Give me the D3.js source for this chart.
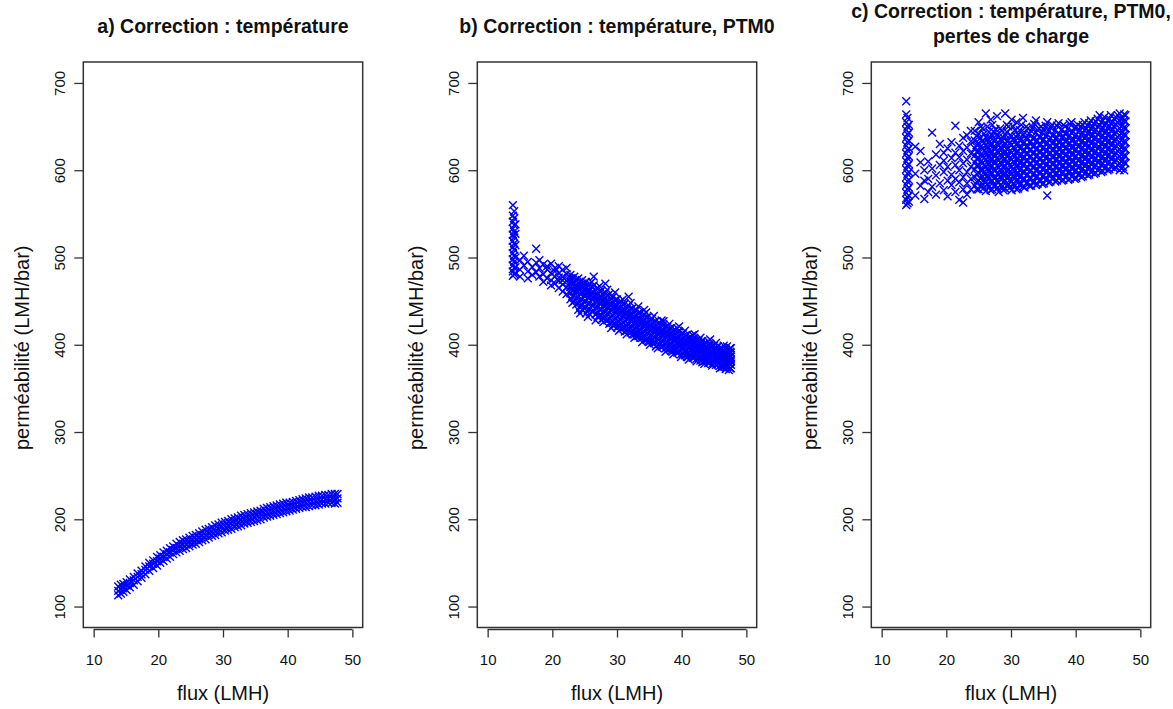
<!DOCTYPE html>
<html>
<head>
<meta charset="utf-8">
<script src="https://cdn.jsdelivr.net/npm/d3@7"></script>
<style>
  html, body { margin: 0; padding: 0; background: #fff; }
  svg { display: block; }
</style>
</head>
<body>
<svg id="chart" width="1173" height="709"></svg>
<script>
// ---------------- data ----------------
const xTicks = [10, 20, 30, 40, 50];
const yTicks = [100, 200, 300, 400, 500, 600, 700];
const xLabel = "flux (LMH)";
const yLabel = "perméabilité (LMH/bar)";
const titlesA = ["a) Correction : température"];
const titlesB = ["b) Correction : température, PTM0"];
const titlesC = ["c) Correction : température, PTM0,", "pertes de charge"];

// each entry: [flux, [permeability values observed at that flux]]
const seriesA = [
  [13.8,[113,118,123]],[14.2,[115,120,125]],[14.6,[117,121,126]],[15.1,[119,124,128]],[15.6,[122,127,131]],
  [16.2,[125,130,134]],[16.8,[129,134,138]],[17.4,[133,137,141]],[18.0,[137,142,146]],[18.6,[141,146,150]],
  [19.2,[144,149,153]],[19.8,[147,152,157]],[20.3,[150,155,159]],[20.8,[152,157,162]],[21.3,[155,160,164]],
  [21.8,[157,162,167]],[22.3,[160,165,169]],[22.8,[162,167,172]],[23.3,[164,169,174]],[23.8,[166,171,176]],
  [24.3,[167,172,177]],[24.8,[169,174,179]],[25.3,[171,176,181]],[25.8,[172,177,182]],[26.3,[174,179,184]],
  [26.8,[176,181,186]],[27.3,[177,182,188]],[27.8,[179,184,189]],[28.3,[181,186,191]],[28.8,[182,187,193]],
  [29.3,[184,189,194]],[29.8,[185,191,196]],[30.3,[187,192,197]],[30.8,[188,193,198]],[31.3,[189,195,200]],
  [31.8,[191,196,201]],[32.3,[192,197,202]],[32.8,[193,199,204]],[33.3,[195,200,205]],[33.8,[196,201,206]],
  [34.3,[197,202,207]],[34.8,[198,203,208]],[35.3,[199,205,209]],[35.8,[200,206,210]],[36.3,[202,207,212]],
  [36.8,[203,208,213]],[37.3,[204,209,214]],[37.8,[205,210,215]],[38.3,[206,211,216]],[38.8,[207,212,217]],
  [39.3,[208,213,218]],[39.8,[209,214,219]],[40.3,[210,215,219]],[40.8,[211,216,220]],[41.3,[212,217,221]],
  [41.8,[213,217,222]],[42.3,[214,218,223]],[42.8,[214,219,224]],[43.3,[215,220,225]],[43.8,[216,221,225]],
  [44.3,[216,221,226]],[44.8,[217,222,227]],[45.3,[218,223,227]],[45.8,[218,223,228]],[46.3,[219,224,228]],
  [46.8,[219,224,229]],[47.3,[218,223,229]],[47.7,[219,224,229]]
];

const seriesB = [
  [13.9,[560,548,541,533,526,519,512,505,498,491,484,479]],
  [14.1,[553,545,537,530,523,516,509,502,495,488,481]],
  [14.3,[538,527,514,500,489,482]],
  [15.0,[497,486,478]],[15.6,[491,502]],[16.2,[484,495,476]],[16.9,[489,480]],
  [17.5,[510,494,483]],[18.0,[488,478,497]],[18.6,[492,481,472]],[19.2,[486,476,490]],
  [19.8,[493,482,474,468]],[20.4,[488,478,470,484]],[21.0,[490,482,473,465,477]],
  [21.6,[486,478,469,461,474]],[22.2,[481,473,466,458,488]],
  [22.8,[480,472,466,459,452,476]],[23.1,[476,469,462,455,448,471]],
  [23.4,[478,470,463,456,450,467]],[23.7,[474,467,460,453,446,462]],
  [24.0,[476,468,461,455,448,465,440]],[24.3,[472,465,458,451,444,436]],
  [24.6,[474,466,459,452,446,470,440]],[24.9,[470,463,456,449,442,466]],
  [25.2,[472,464,457,450,443,461,436]],[25.5,[468,461,454,447,440,432]],
  [25.8,[470,462,455,448,441,458,435]],[26.1,[466,459,452,445,438,472]],
  [26.4,[468,460,453,446,439,456,478]],[26.7,[463,456,449,442,435,428]],
  [27.0,[465,458,450,444,437,453,432]],[27.3,[461,454,447,440,433,467]],
  [27.6,[462,455,448,441,434,451,429]],[27.9,[458,451,444,437,430,426]],
  [28.2,[460,453,446,439,432,449,470]],[28.5,[456,449,442,435,428,463]],
  [28.8,[458,450,443,437,430,446,424]],[29.1,[453,446,439,432,425,419]],
  [29.4,[455,448,441,434,427,444,422]],[29.7,[451,444,437,430,423,460]],
  [30.0,[452,445,438,432,425,441,420]],[30.3,[448,441,434,427,421,416]],
  [30.6,[450,443,436,429,423,439,418]],[30.9,[446,439,432,425,419,452]],
  [31.2,[447,440,433,427,420,436,415]],[31.5,[443,436,429,422,416,412]],
  [31.8,[445,438,431,424,418,434,455]],[32.1,[441,434,427,420,414,448]],
  [32.4,[442,435,428,422,416,431,412]],[32.7,[438,431,424,418,412,408]],
  [33.0,[440,433,426,420,413,429,410]],[33.3,[436,429,422,416,410,444]],
  [33.6,[437,430,424,417,411,427,408]],[33.9,[433,426,420,414,408,403]],
  [34.2,[435,428,421,415,409,424,440]],[34.5,[431,424,418,412,406,437]],
  [34.8,[432,425,419,413,407,421,404]],[35.1,[428,422,416,410,404,400]],
  [35.4,[430,423,417,411,405,419]],[35.7,[426,420,414,408,402,433]],
  [36.0,[427,421,415,409,403,417,398]],[36.3,[424,418,412,406,400,396]],
  [36.6,[425,419,413,407,401,415]],[36.9,[422,416,410,404,398,428]],
  [37.2,[423,417,411,405,399,413,427]],[37.5,[420,414,408,402,396,392]],
  [37.8,[421,415,409,403,397,411]],[38.1,[418,412,406,400,395,424]],
  [38.4,[419,413,407,401,396,409,393]],[38.7,[416,410,404,398,393,389]],
  [39.0,[417,411,405,399,394,407]],[39.3,[414,408,402,397,391,419]],
  [39.6,[415,409,403,398,392,405,421]],[39.9,[412,406,400,395,389,386]],
  [40.2,[413,407,401,396,390,403]],[40.5,[410,404,399,393,388,416]],
  [40.8,[411,405,400,394,389,402,386]],[41.1,[408,403,397,392,387,383]],
  [41.4,[409,404,398,393,388,400]],[41.7,[406,401,395,390,385,411]],
  [42.0,[407,402,396,391,386,398,412]],[42.3,[405,399,394,389,384,381]],
  [42.6,[405,400,395,390,385,396]],[42.9,[403,398,392,387,382,408]],
  [43.2,[404,398,393,388,383,395,380]],[43.5,[401,396,391,386,381,378]],
  [43.8,[402,397,392,387,382,393]],[44.1,[400,394,389,384,379,404]],
  [44.4,[401,395,390,385,380,391,406]],[44.7,[398,393,388,383,378,376]],
  [45.0,[399,394,389,384,379,390]],[45.3,[397,392,387,382,377,402]],
  [45.6,[398,393,388,383,378,388]],[45.9,[395,390,385,380,376,373]],
  [46.2,[396,391,386,382,377,387,374]],[46.5,[394,389,384,379,375,399]],
  [46.8,[395,390,385,381,376,386,372]],[47.0,[393,388,383,378,374,398]],
  [47.3,[394,389,384,380,375,385,371]],[47.5,[392,387,382,378,373,396]],
  [47.6,[396,391,386,381,377,383,373]]
];

const seriesC = [
  [13.8,[679,664,655,646,637,628,619,610,601,592,583,574,566,560]],
  [14.0,[660,650,641,632,623,614,605,596,587,578,569,562]],
  [14.2,[652,643,634,625,616,607,598,589,580,571,564]],
  [15.2,[627,596,571]],[16.0,[609,582,622]],[16.6,[600,567,588]],[17.2,[590,610,575]],
  [17.8,[643,602,581]],[18.4,[594,618,572]],[19.0,[606,585,630]],[19.6,[598,620,577,611]],
  [20.2,[588,604,625,570]],[20.8,[614,595,583,632]],[21.4,[651,606,590,620,575]],
  [22.0,[600,615,586,628,566]],[22.6,[608,592,622,637,578,563]],
  [23.2,[598,612,626,585,640,572]],[23.8,[604,619,590,633,578,645]],
  [24.4,[582,592,601,609,617,625,634,645]],[24.7,[578,587,596,605,613,621,629,639]],
  [25.0,[578,588,597,606,614,622,631,642,655]],[25.3,[581,590,600,610,618,627,637,650]],
  [25.6,[584,593,600,608,616,624,633,648]],[25.85,[580,589,598,606,614,622,631,642]],
  [26.1,[576,586,596,604,612,621,629,638,665]],[26.35,[584,594,602,610,619,627,636,650]],
  [26.6,[581,590,599,607,615,623,632,644]],[26.85,[577,586,595,603,611,619,628,637,658]],
  [27.1,[578,588,597,605,613,621,630,640,652]],[27.35,[582,591,601,609,617,625,634,644]],
  [27.6,[583,592,600,609,617,626,635,647]],[27.85,[579,588,596,605,614,622,631,641,662]],
  [28.1,[575,586,595,603,611,620,628,638]],[28.35,[583,593,601,609,618,626,635,648]],
  [28.6,[581,590,598,607,615,624,633,645]],[28.85,[577,586,594,603,611,619,628,637]],
  [29.1,[579,588,597,605,613,622,631,641,665]],[29.35,[582,591,599,608,616,624,633,644,652]],
  [29.6,[584,593,601,609,617,625,634,650]],[29.85,[580,589,598,606,614,622,631,640]],
  [30.1,[577,587,596,604,612,620,629,639,658]],[30.35,[585,594,602,610,618,626,636,650]],
  [30.6,[582,591,599,608,616,624,633,646]],[30.85,[578,587,595,604,612,620,629,638,655]],
  [31.1,[579,589,597,606,614,622,631,641]],[31.35,[583,592,600,608,616,625,634,646]],
  [31.6,[585,594,602,610,618,626,635,652]],[31.85,[581,590,598,606,614,622,631,640,660]],
  [32.1,[580,590,598,607,615,623,632,643]],[32.35,[585,594,602,611,619,627,637,650]],
  [32.6,[586,595,603,611,619,627,636,648]],[32.85,[582,591,599,607,615,623,632,642]],
  [33.1,[582,591,600,608,616,624,633,645]],[33.35,[586,595,603,611,619,627,636,649]],
  [33.6,[587,596,604,612,620,628,637,653]],[33.85,[583,592,600,608,616,624,633,643,657]],
  [34.1,[584,593,601,609,617,625,634,646]],[34.35,[588,597,605,613,621,629,638,648]],
  [34.6,[588,597,605,613,621,629,638,650]],[34.85,[584,593,601,609,617,625,634,643]],
  [35.1,[585,594,602,610,618,626,635,647]],[35.35,[589,598,606,614,622,630,639,651]],
  [35.6,[571,590,599,607,615,623,631,641,655]],[35.85,[586,595,603,611,619,627,635,645]],
  [36.1,[587,596,604,612,620,628,637,649]],[36.35,[590,599,607,615,623,631,640,652]],
  [36.6,[591,599,607,615,623,631,640]],[36.85,[587,596,604,612,620,628,636,646]],
  [37.1,[588,597,605,613,621,629,638,651]],[37.35,[591,600,608,616,624,632,641,654]],
  [37.6,[592,600,608,616,624,632,641]],[37.85,[588,597,605,613,621,629,637,647]],
  [38.1,[589,598,606,614,622,630,639,652]],[38.35,[592,601,609,617,625,633,642,650]],
  [38.6,[593,601,609,617,625,633,642]],[38.85,[589,598,606,614,622,630,638,648]],
  [39.1,[590,599,607,615,623,631,640,653]],[39.35,[593,602,610,618,626,634,643,655]],
  [39.6,[594,602,610,618,626,634,644]],[39.85,[590,599,607,615,623,631,639,649]],
  [40.1,[591,600,608,616,624,632,641,650]],[40.35,[595,603,611,619,627,635,644,652]],
  [40.6,[596,604,612,620,628,636,645]],[40.85,[592,600,608,616,624,632,640,650]],
  [41.1,[593,602,610,618,626,634,643,652]],[41.35,[596,605,613,621,629,637,646,655]],
  [41.6,[598,606,614,622,630,638,647]],[41.85,[594,602,610,618,626,634,642,651]],
  [42.1,[595,604,612,620,628,636,645,654]],[42.35,[598,607,615,623,631,639,648,657]],
  [42.6,[600,608,616,624,632,640,649]],[42.85,[596,604,612,620,628,636,644,653]],
  [43.1,[597,606,614,622,630,638,647,656]],[43.4,[600,609,617,625,633,641,650,659]],
  [43.7,[602,610,618,626,634,642,651,663]],[43.95,[598,606,614,622,630,638,646,655]],
  [44.2,[599,608,616,624,632,640,649,657]],[44.45,[602,611,619,627,635,643,652,661]],
  [44.7,[604,612,620,628,636,644,653]],[44.95,[600,608,616,624,632,640,648,657]],
  [45.2,[601,610,618,626,634,642,651,659]],[45.45,[604,613,621,629,637,645,654,663]],
  [45.7,[606,614,622,630,638,646,655]],[45.95,[602,610,618,626,634,642,650,659]],
  [46.2,[603,612,620,628,636,644,653,661]],[46.5,[606,614,622,630,638,646,655,663]],
  [46.8,[600,608,616,624,632,640,648,657,665]],[47.05,[602,610,618,626,634,642,650,658]],
  [47.3,[604,612,620,628,636,644,652,660]],[47.5,[600,609,617,625,633,641,649,657,664]],
  [47.7,[608,616,624,632,640,648,656,663]]
];

// ---------------- layout ----------------
const panels = [
  { left: 83.3,  titles: titlesA, series: seriesA },
  { left: 477.3, titles: titlesB, series: seriesB },
  { left: 871.3, titles: titlesC, series: seriesC }
];
const plotW = 279.4, plotTop = 62, plotBottom = 627.5;
const axisColor = "#333";
const textColor = "#111";
const pointColor = "#0000ff";
const sansFont = "Liberation Sans, Arial, sans-serif";

const svg = d3.select("#chart");
svg.append("rect").attr("width", 1173).attr("height", 709).attr("fill", "#fff");

panels.forEach(p => {
  const x = d3.scaleLinear().domain([8.4, 51.6]).range([p.left, p.left + plotW]);
  const y = d3.scaleLinear().domain([76, 724]).range([plotBottom, plotTop]);
  const g = svg.append("g");

  // points
  const pts = [];
  p.series.forEach(([fx, ys]) => ys.forEach(v => pts.push([fx, v])));
  const sym = d3.symbol(d3.symbolX).size(42);
  g.append("g").selectAll("path").data(pts).join("path")
    .attr("d", sym)
    .attr("transform", d => `translate(${x(d[0])},${y(d[1])})`)
    .attr("fill", "none")
    .attr("stroke", pointColor)
    .attr("stroke-width", 1.4);

  // box
  g.append("rect")
    .attr("x", p.left).attr("y", plotTop)
    .attr("width", plotW).attr("height", plotBottom - plotTop)
    .attr("fill", "none").attr("stroke", axisColor).attr("stroke-width", 1.5);

  // x axis
  const xAxis = d3.axisBottom(x).tickValues(xTicks).tickSize(8).tickFormat(d3.format("d"));
  const xa = g.append("g").attr("transform", `translate(0,${plotBottom + 2})`).call(xAxis);
  xa.select(".domain").attr("d", `M${x(xTicks[0])},0H${x(xTicks[xTicks.length-1])}`)
    .attr("stroke", axisColor).attr("stroke-width", 1.3);
  xa.selectAll(".tick line").attr("stroke", axisColor).attr("stroke-width", 1.3);
  xa.selectAll(".tick text").attr("font-family", sansFont)
    .attr("font-size", 15).attr("fill", textColor).attr("dy", 0).attr("y", 35);

  // y axis
  const yAxis = d3.axisLeft(y).tickValues(yTicks).tickSize(9).tickFormat(d3.format("d"));
  const ya = g.append("g").attr("transform", `translate(${p.left},0)`).call(yAxis);
  ya.select(".domain").remove();
  ya.selectAll(".tick line").attr("stroke", axisColor).attr("stroke-width", 1.3);
  ya.selectAll(".tick text")
    .attr("font-family", sansFont)
    .attr("font-size", 15).attr("fill", textColor)
    .attr("x", null).attr("dy", null)
    .attr("text-anchor", "middle")
    .attr("transform", "translate(-18,0) rotate(-90)");

  // axis titles
  const cx = p.left + plotW / 2;
  g.append("text").text(xLabel)
    .attr("x", cx).attr("y", 700)
    .attr("text-anchor", "middle")
    .attr("font-family", sansFont)
    .attr("font-size", 20).attr("fill", textColor);
  g.append("text").text(yLabel)
    .attr("text-anchor", "middle")
    .attr("font-family", sansFont)
    .attr("font-size", 20).attr("fill", textColor)
    .attr("transform", `translate(${p.left - 54},${(plotTop + plotBottom) / 2 + 3}) rotate(-90)`);

  // title
  const lines = p.titles;
  const baseY = lines.length === 1 ? 33 : 18;
  lines.forEach((t, i) => {
    g.append("text").text(t)
      .attr("x", cx).attr("y", baseY + i * 25)
      .attr("text-anchor", "middle")
      .attr("font-family", sansFont)
      .attr("font-weight", "bold")
      .attr("font-size", 19.5).attr("fill", textColor);
  });
});
</script>
</body>
</html>
